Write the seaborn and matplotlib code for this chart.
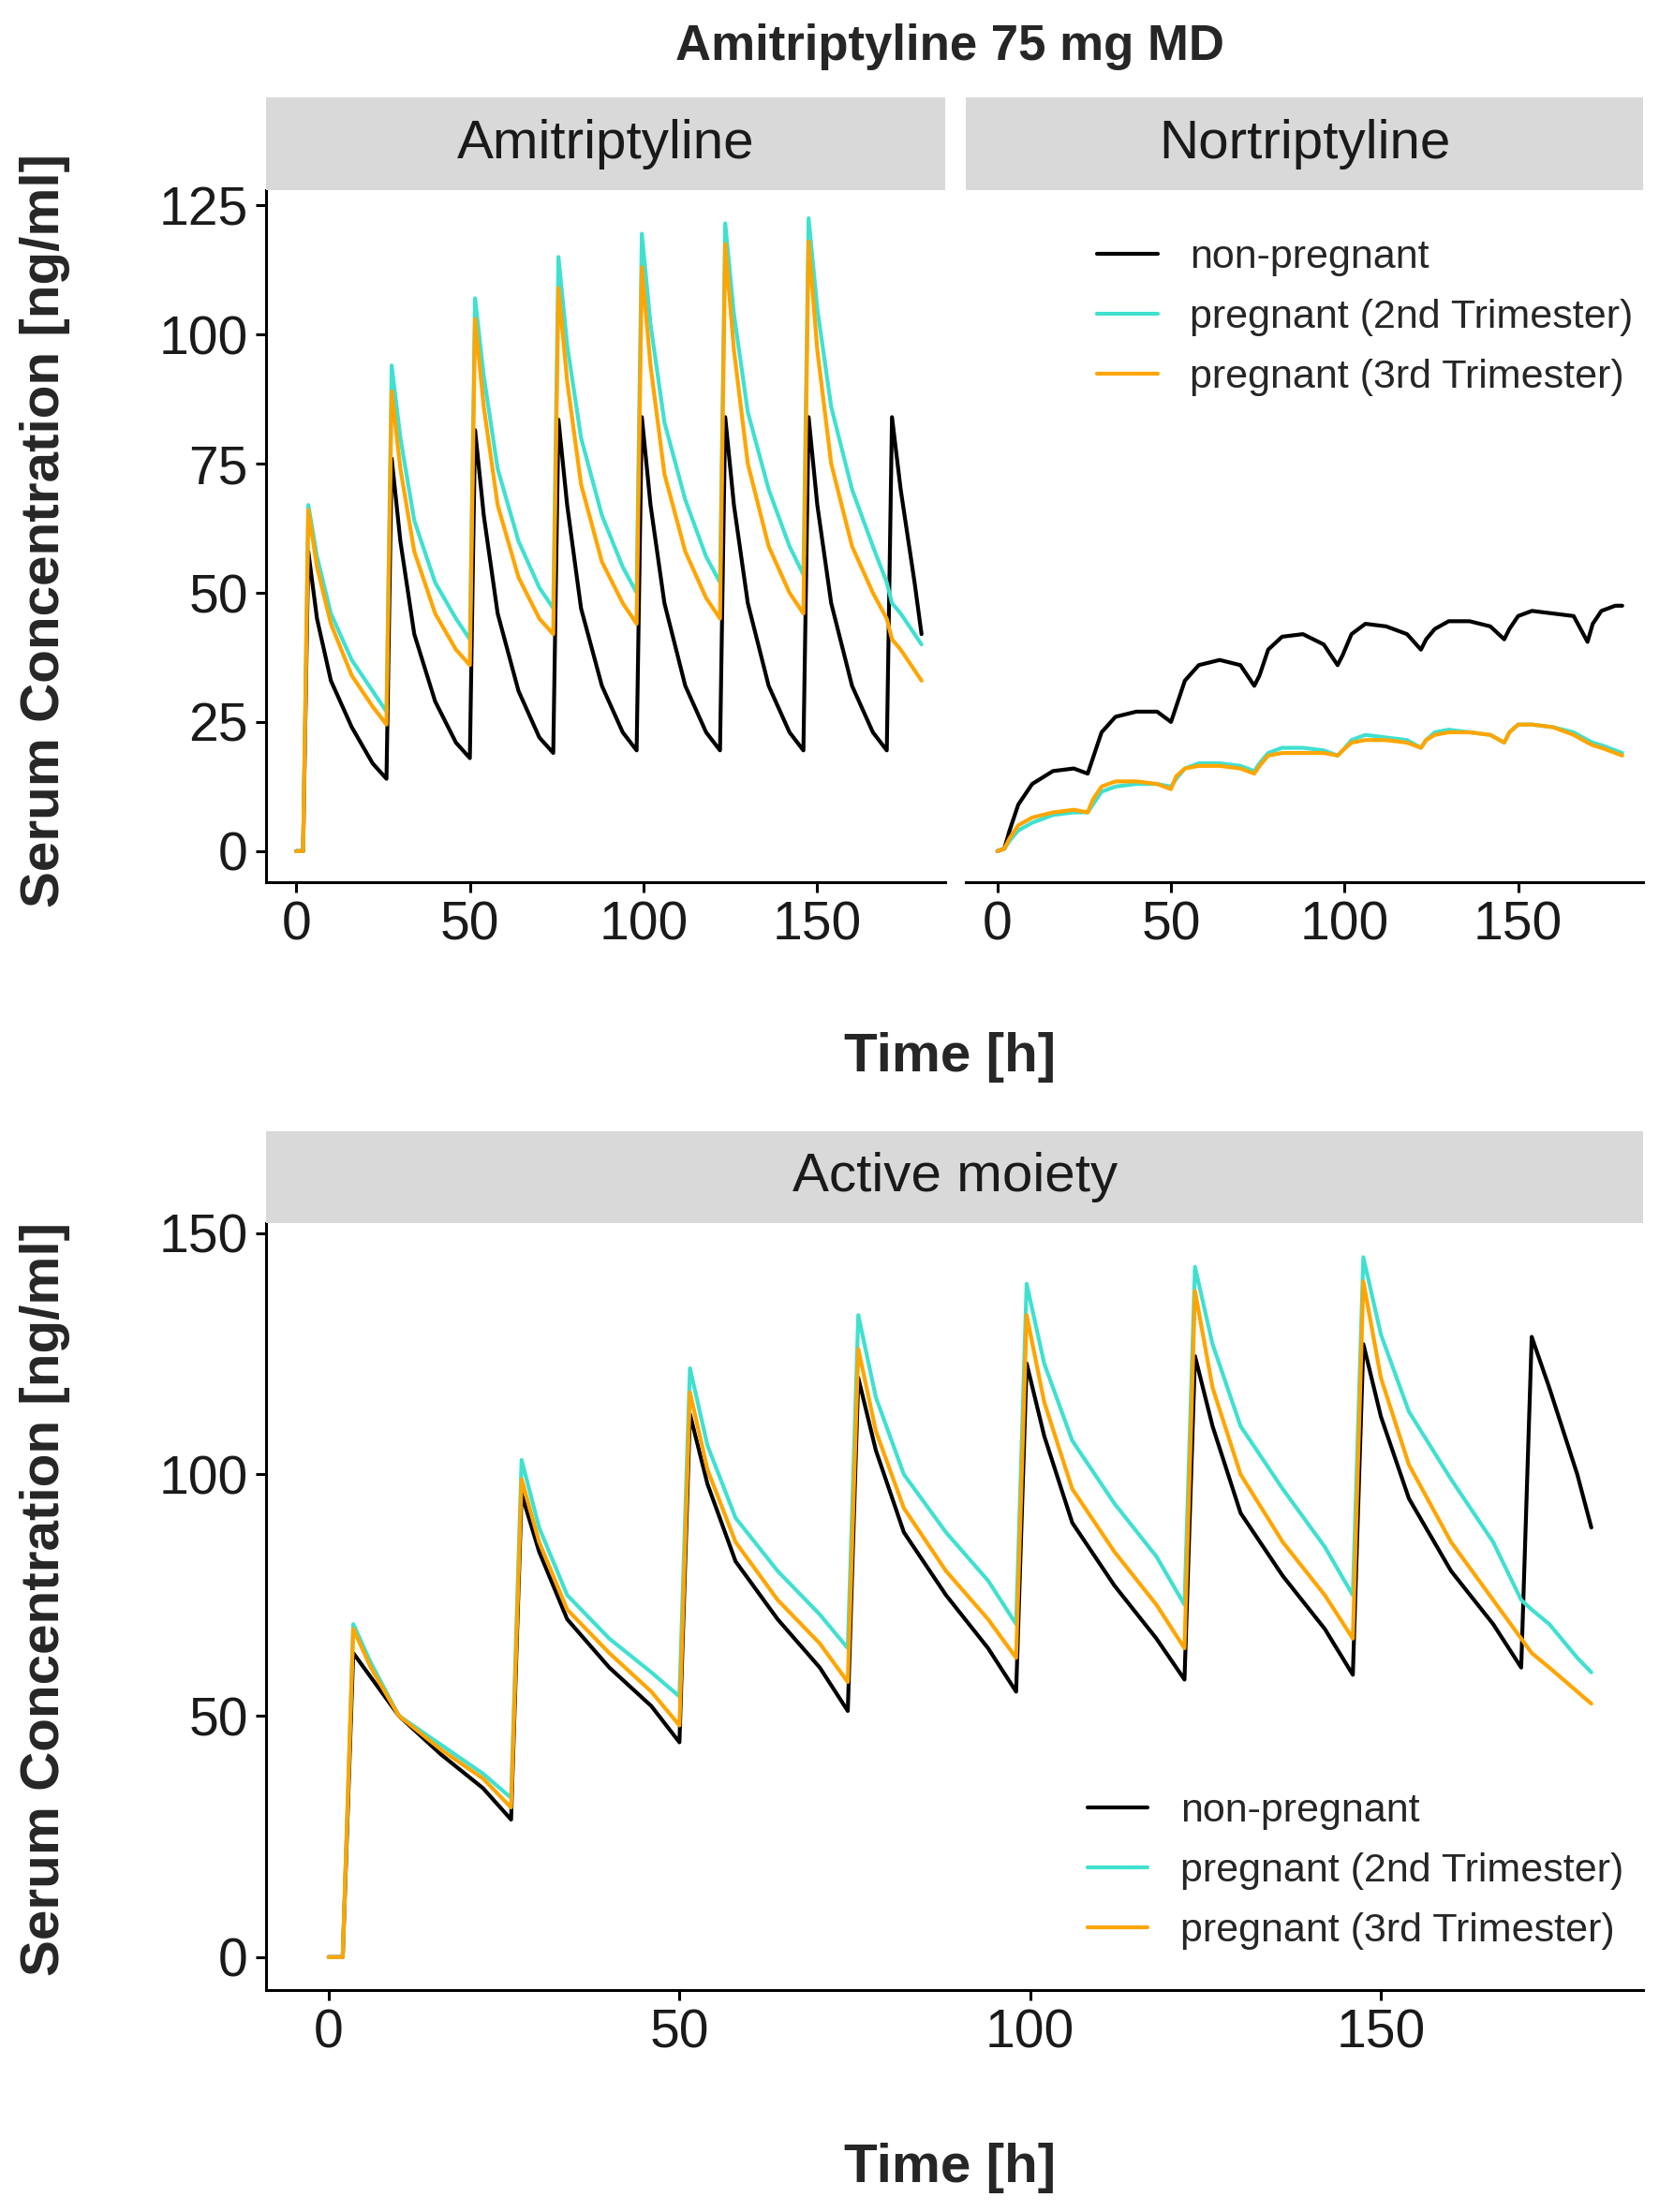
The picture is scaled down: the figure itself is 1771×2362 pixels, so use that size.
import pandas as pd
import numpy as np
import seaborn as sns
from matplotlib import pyplot as plt

# time points (h)
time = [0, 2, 3.5, 6, 10, 16, 22, 26, 27.5, 30, 34, 40, 46, 50, 51.5, 54, 58, 64, 70, 74,
        75.5, 78, 82, 88, 94, 98, 99.5, 102, 106, 112, 118, 122, 123.5, 126, 130, 136, 142, 146,
        147.5, 150, 154, 160, 166, 170, 171.5, 174, 178, 180]

groups = ["non-pregnant", "pregnant (2nd Trimester)", "pregnant (3rd Trimester)"]
colours = ["black", "#40E0D0", "#FFA500"]

ami_np = [0, 0, 58, 45, 33, 24, 17, 14, 76, 60, 42, 29, 21, 18, 81.5, 65, 46, 31, 22, 19,
          83.5, 67, 47, 32, 23, 19.5, 84, 67, 48, 32, 23, 19.5, 84, 67, 48, 32, 23, 19.5,
          84, 67, 48, 32, 23, 19.5, 84, 70, 52, 42]
ami_t2 = [0, 0, 67, 57, 46, 37, 31, 27, 94, 80, 64, 52, 45, 41, 107, 92, 74, 60, 51, 47,
          115, 98, 80, 65, 55, 50, 119.5, 102, 83, 68, 57, 52, 121.5, 104, 85, 70, 59, 53.5,
          122.5, 105, 86, 70, 59, 52, 48, 46, 42, 40]
ami_t3 = [0, 0, 66, 55, 44, 34, 28, 24.5, 89, 74, 58, 46, 39, 36, 103, 86, 67, 53, 45, 42,
          109, 91, 71, 56, 48, 44, 113, 94, 73, 58, 49, 45, 117.5, 97, 75, 59, 50, 46,
          118, 97, 75, 59, 50, 45, 41, 39, 35, 33]

nor_np = [0, 0.5, 4, 9, 13, 15.5, 16, 15, 18, 23, 26, 27, 27, 25, 28, 33, 36, 37, 36, 32,
          34, 39, 41.5, 42, 40, 36, 38, 42, 44, 43.5, 42, 39, 41, 43, 44.5, 44.5, 43.5, 41,
          43, 45.5, 46.5, 46, 45.5, 40.5, 44, 46.5, 47.5, 47.5]
nor_t2 = [0, 0.5, 2, 4, 5.5, 7, 7.5, 7.5, 9, 11.5, 12.5, 13, 13, 12.5, 14, 16, 17, 17, 16.5, 15.5,
          17, 19, 20, 20, 19.5, 18.5, 19.5, 21.5, 22.5, 22, 21.5, 20, 21.5, 23, 23.5, 23, 22.5, 21,
          23, 24.5, 24.5, 24, 23, 21.5, 21, 20.5, 19.5, 19]
nor_t3 = [0, 0.5, 2.5, 5, 6.5, 7.5, 8, 7.5, 10, 12.5, 13.5, 13.5, 13, 12, 14.5, 16, 16.5, 16.5, 16, 15,
          16.5, 18.5, 19, 19, 19, 18.5, 19.5, 21, 21.5, 21.5, 21, 20, 21.5, 22.5, 23, 23, 22.5, 21,
          23, 24.5, 24.5, 24, 22.5, 21, 20.5, 20, 19, 18.5]

act_np = [0, 0, 63, 58, 50, 42, 35, 28.5, 96, 84, 70, 60, 52, 44.5, 112.5, 98, 82, 70, 60, 51,
          120, 105, 88, 75, 64, 55, 123, 108, 90, 77, 66, 57.5, 124.5, 110, 92, 79, 68, 58.5,
          127, 112, 95, 80, 69, 60, 128.5, 118, 100, 89]
act_t2 = [0, 0, 69, 61, 50, 44, 38, 33, 103, 89, 75, 66, 59, 54, 122, 106, 91, 80, 71, 64,
          133, 116, 100, 88, 78, 69, 139.5, 123, 107, 94, 83, 73, 143, 127, 110, 97, 85, 75,
          145, 129, 113, 99, 86, 74, 72, 69, 62, 59]
act_t3 = [0, 0, 68, 60, 50, 43, 37, 31, 99, 86, 72, 63, 55, 48, 117, 101, 86, 74, 65, 57,
          126, 109, 93, 80, 70, 62, 133, 115, 97, 84, 73, 64, 138, 118, 100, 86, 75, 66,
          140, 120, 102, 86, 74, 66, 63, 60, 55, 52.5]


def make_df(series):
    frames = []
    for g, vals in zip(groups, series):
        frames.append(pd.DataFrame({"time": time, "conc": vals, "group": g}))
    return pd.concat(frames)


sns.set_style("white")
plt.rcParams['font.family'] = ['Arial', 'Liberation Sans', 'DejaVu Sans']

fig = plt.figure(figsize=(17.71, 23.62), dpi=100)

panels = [
    ("Amitriptyline", make_df([ami_np, ami_t2, ami_t3]), [0.1605, 0.6012, 0.409, 0.313],
     (-8.6, 186.7), (-6, 128), [0, 25, 50, 75, 100, 125], False),
    ("Nortriptyline", make_df([nor_np, nor_t2, nor_t3]), [0.5824, 0.6012, 0.408, 0.313],
     (-9, 186), (-6, 128), [], True),
    ("Active moiety", make_df([act_np, act_t2, act_t3]), [0.1605, 0.1005, 0.830, 0.3464],
     (-8.9, 187.4), (-6.75, 152), [0, 50, 100, 150], True),
]

for name, df, rect, xlim, ylim, yticks, show_leg in panels:
    ax = fig.add_axes(rect)
    sns.lineplot(data=df, x="time", y="conc", hue="group", palette=colours,
                 linewidth=3, ax=ax, legend=show_leg)
    ax.set_xlim(xlim)
    ax.set_ylim(ylim)
    ax.set_xticks([0, 50, 100, 150])
    ax.set_yticks(yticks)
    ax.set_xlabel("")
    ax.set_ylabel("")
    sns.despine(ax=ax)
    for s in ["left", "bottom"]:
        ax.spines[s].set_color("black")
        ax.spines[s].set_linewidth(2.2)
    if not yticks:
        ax.spines["left"].set_visible(False)
    ax.tick_params(axis="both", labelsize=41, colors="black", length=8, width=2.2,
                   direction="out", left=bool(yticks), bottom=True, pad=6)
    ax.tick_params(axis="both", labelcolor="#1a1a1a")
    # strip
    srect = [rect[0], rect[1] + rect[3], rect[2], 0.0416]
    sax = fig.add_axes(srect)
    sax.set_facecolor("#D9D9D9")
    sax.set_xticks([])
    sax.set_yticks([])
    for s in sax.spines.values():
        s.set_visible(False)
    sax.text(0.5, 0.5, name, ha="center", va="center", fontsize=42, color="#1a1a1a",
             transform=sax.transAxes)
    if show_leg:
        loc = (0.14, 0.65) if name == "Nortriptyline" else (0.57, 0.005)
        leg = ax.legend(loc="lower left", bbox_to_anchor=loc, frameon=False, fontsize=31,
                        handlelength=1.5, labelspacing=0.55, title=None)
        for line in leg.get_lines():
            line.set_linewidth(3)

fig.text(0.5725, 0.979, "Amitriptyline 75 mg MD", ha="center", va="center",
         fontsize=38, fontweight="bold")
fig.text(0.5725, 0.522, "Time [h]", ha="center", va="center", fontsize=42, fontweight="bold")
fig.text(0.5725, 0.020, "Time [h]", ha="center", va="center", fontsize=42, fontweight="bold")
fig.text(0.027, 0.76, "Serum Concentration [ng/ml]", ha="center", va="center",
         rotation=90, fontsize=42, fontweight="bold")
fig.text(0.027, 0.277, "Serum Concentration [ng/ml]", ha="center", va="center",
         rotation=90, fontsize=42, fontweight="bold")

fig.savefig("out.png", dpi=100, facecolor="white")
